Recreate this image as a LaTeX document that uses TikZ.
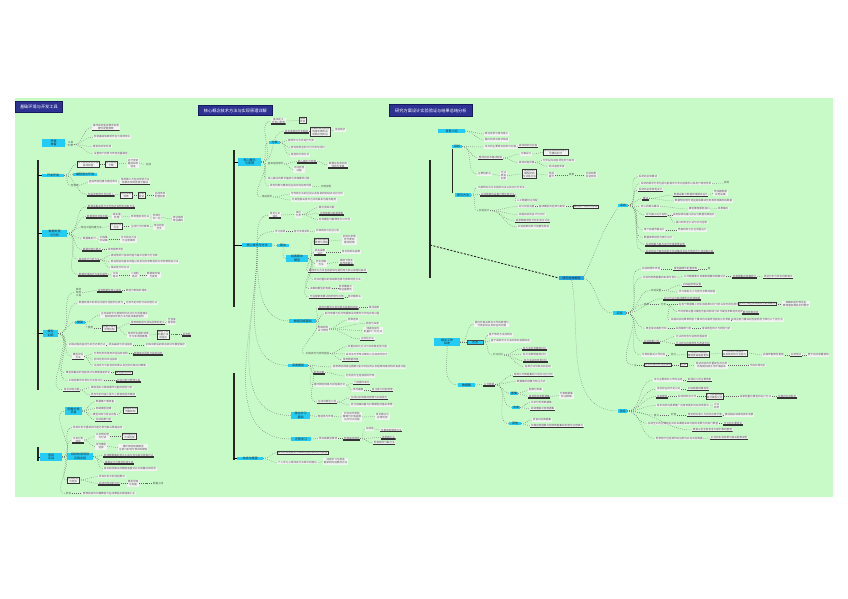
\documentclass[tikz,border=0pt]{standalone}
\usepackage{fontspec}
\setmainfont{Noto Sans CJK SC}
\usepackage{tikz}
\usetikzlibrary{positioning}
\definecolor{bggreen}{HTML}{C8FAC8}
\definecolor{keycyan}{HTML}{22CCF5}
\definecolor{rootblue}{HTML}{1EA8E8}
\definecolor{navy}{HTML}{2D3192}
\definecolor{navyline}{HTML}{161A5E}
\definecolor{leaf}{HTML}{F2F4F2}
\definecolor{txt}{HTML}{555555}

\begin{document}
\begin{tikzpicture}[
  x=1pt,y=-1pt,
  lf/.style={fill=leaf,text=txt,anchor=west,align=center,inner xsep=0.7pt,inner ysep=0.5pt,font=\fontsize{2.6}{3}\selectfont},
  ul/.style={lf,path picture={\draw[line width=2.4pt,black!80] (path picture bounding box.south west) -- (path picture bounding box.south east);}},
  bx/.style={lf,draw=black!80,line width=0.5pt},
  pl/.style={lf,fill=none},
  key/.style={lf,fill=keycyan,text=black!85,font=\fontsize{3}{3.4}\selectfont},
  ttl/.style={fill=navy,draw=navyline,line width=0.8pt,text=white,anchor=west,minimum height=9pt,font=\fontsize{4.2}{5}\selectfont},
  trunk/.style={line width=1.2pt,black!85},
  br/.style={draw=black!60,line width=0.5pt,dash pattern=on 0.5pt off 1.5pt,out=0,in=180}
]
\fill[white] (0,0) rectangle (848,599);
\fill[bggreen] (15,98) rectangle (833,497);
\useasboundingbox (0,0) rectangle (848,599);

\node[ttl,minimum width=47pt] (t1) at (15,107) {基础环境与开发工具};
\node[ttl,minimum width=74pt] (t2) at (198,110.5) {核心概念技术方法与实现原理详解};
\node[ttl,minimum width=83pt,minimum height=12pt] (t3) at (389,110.5) {研究方案设计实验验证与结果总结分析};

\coordinate (c1top) at (38,160);
\coordinate (c1bot) at (38,390);
\coordinate (c1top2) at (38,447);
\coordinate (c1bot2) at (38,461);
\coordinate (c2top) at (234,150);
\coordinate (c2mid) at (234,307);
\coordinate (c2mid2) at (234,373);
\coordinate (c2bot) at (234,460);
\coordinate (c3top) at (430,160);
\coordinate (c3mid) at (430,245);
\coordinate (c3bot) at (430,278);

\node[key,minimum width=23pt,minimum height=8pt] (A1) at (42,143) {环境\\准备};
\node[pl] (a1b) at (67,144.5) {工具\\列表};
\node[ul] (a1c) at (92,127.5) {操作系统版本要求说明\\硬件配置推荐};
\node[lf] (a1d) at (93,137) {安装基础依赖软件包与常用命令};
\node[lf] (a1e) at (92,146.5) {更新系统软件源};
\node[lf] (a1f) at (93,153.5) {设置用户权限与环境变量路径};

\node[key,minimum width=22pt] (A2) at (42,175.5) {开发环境};
\node[bx] (a2a) at (77,164) {显卡驱动安装步骤\\版本检查};
\node[bx] (a2b) at (105,164) {官方驱动\\下载};
\node[lf] (a2c) at (127,163) {运行安装\\重启系统\\验证};
\node[pl] (a2d) at (145,164.5) {完成};
\node[key,minimum width=24pt] (a2e) at (73,174.5) {编程语言环境};
\node[pl] (a2f) at (70,185.5) {包管理};
\node[lf] (a2g) at (88,182) {虚拟环境创建与激活命令};
\node[ul] (a2h) at (120,181.5) {常用第三方包的安装方法\\依赖冲突的排查与解决};
\node[ul] (a2i) at (87,194.5) {包版本管理与导出导入};
\node[bx] (a2j) at (120,195) {导出依赖\\列表};
\node[bx] (a2k) at (138,195) {安装\\验证};
\node[lf] (a2l) at (154,195) {完成环境\\配置检查};

\node[key,minimum width=25pt] (A3) at (42,233.5) {数据处理\\与分析};
\node[ul] (a3a) at (87,206.5) {数据采集来源与文件格式说明及读取方法};
\node[ul] (a3b) at (86,216.5) {数据清洗流程步骤};
\node[lf] (a3c) at (112,216) {缺失值\\处理};
\node[lf] (a3d) at (130,217) {异常值检测方法};
\node[lf] (a3e) at (152,217.5) {标准化\\归一化};
\node[lf] (a3f) at (172,219) {特征缩放\\特征编码};
\node[pl] (a3g) at (80,227.5) {特征工程构建方法};
\node[bx] (a3h) at (110,226.5) {特征选择\\方法};
\node[lf] (a3i) at (130,226.5) {主成分分析降维};
\node[lf] (a3j) at (153,227) {特征组合\\交叉};
\node[lf] (a3k) at (82,238.5) {数据集划分};
\node[lf] (a3l) at (99,239.5) {训练集\\测试集};
\node[lf] (a3m) at (120,239.5) {交叉验证方法\\与注意事项};
\node[ul] (a3n) at (82,249.5) {数据可视化展示};
\node[lf] (a3o) at (107,249.5) {常用图表类型};
\node[ul] (a3p) at (78,259.5) {基本统计分析方法};
\node[lf] (a3q) at (110,255.5) {描述性统计指标均值方差中位数与分位数};
\node[lf] (a3r) at (110,262) {假设检验的基本流程以及常见的参数检验与非参数检验方法};
\node[lf] (a3s) at (110,268) {相关性分析方法};
\node[ul] (a3t) at (78,274.5) {数据存储格式与读写操作};
\node[lf] (a3u) at (112,275) {文本\\格式};
\node[lf] (a3v) at (130,275) {二进制\\格式};
\node[lf] (a3w) at (146,275) {数据库存储\\与查询};

\node[key,minimum width=15pt,minimum height=7pt] (A4) at (43,333.5) {模型\\训练};
\node[pl] (a4a) at (75,292.5) {其他\\常用\\工具};
\node[ul] (a4b) at (97,290.5) {常用数据处理工具库};
\node[lf] (a4c) at (125,290.5) {数组与表格处理库};
\node[lf] (a4d) at (78,303) {数据处理中的常见问题与性能优化技巧};
\node[lf] (a4e) at (125,303) {内存不足时的分块处理方法};
\node[key,minimum width=10pt] (a4f) at (75,322.5) {框架};
\node[lf] (a4g) at (100,315) {主流深度学习框架的特点对比与选择建议\\各框架的安装方法与版本兼容说明};
\node[pl] (a4h) at (87,328) {使用};
\node[bx] (a4i) at (102,328) {张量与自动\\求导机制};
\node[ul] (a4j) at (130,323) {常用网络层与损失函数的定义};
\node[lf] (a4k) at (167,321.5) {全连接\\卷积层};
\node[lf] (a4l) at (127,335) {常用优化器的选择\\学习率调度策略};
\node[bx] (a4m) at (157,334.5) {梯度下降\\动量方法\\自适应};
\node[ul] (a4n) at (182,334.5) {超参数};
\node[lf] (a4o) at (68,345) {训练过程的监控与日志记录方法};
\node[lf] (a4p) at (108,345) {损失曲线与评估指标};
\node[lf] (a4q) at (145,345) {训练中断后的断点续训与模型保存};
\node[ul] (a4r) at (72,356.5) {模型评估\\方法};
\node[lf] (a4s) at (93,353.5) {分类任务的常用评估指标说明};
\node[ul] (a4t) at (133,353.5) {准确率召回率与综合指标};
\node[lf] (a4u) at (93,359.5) {回归任务的评估指标};
\node[lf] (a4v) at (93,365.5) {过拟合与欠拟合的判断以及正则化等应对策略};
\node[lf] (a4w) at (65,372.5) {模型部署前的性能测试与推理速度优化};
\node[bx] (a4x) at (115,372.5) {模型量化剪枝};
\node[lf] (a4y) at (68,380.5) {训练结果的可视化与实验对比};
\node[ul] (a4z) at (116,380.5) {实验记录与管理工具};
\node[ul] (a4aa) at (63,390) {常见训练问题};
\node[lf] (a4ab) at (90,387.5) {梯度消失与梯度爆炸问题的原因分析};
\node[ul] (a4ac) at (90,395) {显存不足时减小批大小或使用混合精度};

\node[key,minimum width=22pt,minimum height=8pt] (A5) at (40,457) {项目\\实战};
\node[key,minimum width=17pt,minimum height=8pt] (a5a) at (65,411) {图像分类\\项目};
\node[lf] (a5b) at (95,401.5) {数据集下载准备};
\node[lf] (a5c) at (95,408.5) {网络模型搭建};
\node[lf] (a5d) at (92,414.5) {模型训练与验证过程};
\node[ul] (a5e) at (95,420) {测试结果分析};
\node[bx] (a5f) at (123,410.5) {准确率达到\\预期目标};
\node[lf] (a5g) at (72,427.5) {项目开发中遇到的问题记录与解决思路总结};
\node[ul] (a5h) at (72,440) {文本分类\\项目};
\node[lf] (a5i) at (95,436.5) {文本预处理\\与分词};
\node[bx] (a5j) at (122,436.5) {词向量表示\\方法选择};
\node[lf] (a5k) at (95,446.5) {序列模型\\选择};
\node[lf] (a5l) at (118,447.5) {循环神经网络模型\\注意力机制与预训练模型};
\node[key,minimum width=26pt,minimum height=7pt] (a5m) at (67,456.5) {目标检测项目\\实践总结};
\node[ul] (a5n) at (103,455.5) {检测数据集的标注工具与标注格式转换方法};
\node[ul] (a5o) at (104,462.5) {锚框设计与候选区域生成};
\node[lf] (a5p) at (103,469) {常见检测算法的精度速度对比与部署应用场景};
\node[bx] (a5q) at (67,480) {项目总结\\与经验};
\node[lf] (a5r) at (98,476.5) {项目开发中的经验教训};
\node[ul] (a5s) at (98,483.5) {后续可改进的方向};
\node[lf] (a5t) at (127,483.5) {模型压缩\\与加速};
\node[pl] (a5u) at (152,483.5) {部署上线};
\node[pl] (a5v) at (65,493.5) {参考};
\node[lf] (a5w) at (82,493.5) {推荐阅读的书籍教程与在线课程资源链接汇总};

\node[key,minimum width=23pt,minimum height=8pt] (B1) at (238,162) {核心概念\\与原理};
\node[ul] (b1a) at (271,121) {基本定义\\与核心思想};
\node[bx] (b1b) at (299,120.5) {相关\\术语};
\node[ul] (b1c) at (284,131.5) {技术发展的历史脉络};
\node[bx] (b1d) at (310,131.5) {早期的研究阶段\\快速发展阶段\\成熟应用阶段};
\node[lf] (b1e) at (334,130) {当前现状};
\node[key,minimum width=11pt] (b1f) at (269,142.5) {分类};
\node[lf] (b1g) at (287,140.5) {按照学习方式进行分类};
\node[lf] (b1h) at (290,147.5) {按任务类型划分为分类与回归};
\node[lf] (b1i) at (290,155) {其他的分类方式};
\node[pl] (b1j) at (267,164) {基本组成部分};
\node[ul] (b1k) at (297,161.5) {输入输出与参数};
\node[lf] (b1l) at (293,169.5) {中间处理\\过程};
\node[ul] (b1m) at (328,165) {数据在各层间的\\流动与变换};
\node[lf] (b1n) at (267,178.5) {核心算法的数学基础与详细推导过程};
\node[lf] (b1o) at (269,186) {线性代数与概率论在其中的应用场景};
\node[pl] (b1p) at (320,187) {示例说明};
\node[pl] (b1q) at (261,197) {相关技术};
\node[lf] (b1r) at (290,194) {与传统方法的区别以及各自的优缺点对比分析};
\node[lf] (b1s) at (291,200) {与其他相关技术之间的联系与融合趋势};
\node[ul] (b1t) at (269,215) {常见认识\\误区};
\node[lf] (b1u) at (295,214.5) {误区\\分析};
\node[lf] (b1v) at (318,207.5) {概念混淆问题};
\node[ul] (b1w) at (319,213.5) {过度依赖训练数据量};
\node[lf] (b1x) at (318,219.5) {忽视模型可解释性与公平性};
\node[lf] (b1y) at (274,231.5) {学习资源};
\node[lf] (b1z) at (293,231.5) {官方文档资料};
\node[lf] (b1aa) at (315,231) {开源项目与社区讨论};

\node[key,minimum width=30pt] (B2) at (242,245) {核心技术与方法};
\node[key,minimum width=12pt] (b2a) at (277,245.5) {算法};
\node[key,minimum width=22pt,minimum height=7pt] (b2b) at (286,258.5) {经典算法\\模型};
\node[bx] (b2c) at (314,241) {算法的基本\\思想与流程};
\node[lf] (b2d) at (342,240) {初始化参数\\迭代更新\\输出结果};
\node[ul] (b2e) at (314,252) {损失函数\\设计};
\node[lf] (b2f) at (341,252) {常见的损失函数};
\node[lf] (b2g) at (315,263.5) {优化求解\\方法};
\node[ul] (b2h) at (339,262) {梯度下降及\\其改进算法};
\node[ul] (b2i) at (308,271) {集成学习方法包括装袋与提升两大类以及随机森林};
\node[lf] (b2j) at (313,279.5) {支持向量机的核函数选择与参数调优方法};
\node[lf] (b2k) at (309,288.5) {决策树模型的构建};
\node[lf] (b2l) at (338,288.5) {剪枝策略与\\特征重要性};
\node[ul] (b2m) at (309,297) {无监督聚类算法的原理与应用};
\node[lf] (b2n) at (347,297) {层次聚类法};
\node[key,minimum width=27pt] (b2o) at (289,321) {神经网络基础};
\node[ul] (b2p) at (318,307.5) {神经元模型与常见激活函数的选择};
\node[lf] (b2q) at (368,307.5) {激活函数};
\node[lf] (b2r) at (324,313.5) {前向传播与反向传播算法的推导与代码实现过程};
\node[lf] (b2s) at (317,329) {网络结构\\设计原则};
\node[lf] (b2t) at (347,320) {层数选择};
\node[lf] (b2u) at (365,323.5) {宽度与深度};
\node[lf] (b2v) at (363,330.5) {残差连接与\\批量归一化方法};
\node[ul] (b2w) at (360,339) {正则化方法};
\node[pl] (b2aa) at (305,353.5) {训练技巧与调优经验};
\node[lf] (b2x) at (347,346.5) {权重初始化方法与训练稳定性问题};
\node[lf] (b2y) at (345,354) {丢弃法与早停法等防止过拟合的技巧};
\node[ul] (b2z) at (342,360) {常用数据增强};
\node[key,minimum width=20pt] (b2ab) at (288,365.5) {深度模型};
\node[lf] (b2ac) at (332,367) {卷积神经网络在图像识别中的应用以及经典网络结构的演进过程};
\node[ul] (b2ad) at (313,372.5) {卷积运算};
\node[lf] (b2ae) at (345,376) {池化层与全连接层的作用};
\node[lf] (b2af) at (313,385) {循环神经网络与长短期记忆};
\node[ul] (b2ag) at (353,383) {门控循环单元};
\node[lf] (b2ah) at (352,390) {序列建模};
\node[ul] (b2ai) at (371,390) {自注意力机制原理};
\node[ul] (b2aj) at (317,402) {生成式模型介绍};
\node[ul] (b2ak) at (350,398) {生成对抗网络的原理与训练技巧};
\node[lf] (b2al) at (350,405) {变分自编码器与扩散模型的基本思想};
\node[key,minimum width=19pt,minimum height=7pt] (b2am) at (291,415.5) {强化学习\\基础};
\node[lf] (b2an) at (317,416.5) {智能体与环境};
\node[lf] (b2ao) at (342,417) {状态动作奖励\\策略与价值函数\\马尔可夫过程};
\node[lf] (b2ap) at (375,416.5) {常见算法与\\应用场景};
\node[key,minimum width=20pt] (b2aq) at (291,439) {迁移学习};
\node[lf] (b2ar) at (318,438.5) {预训练模型微调};
\node[ul] (b2as) at (343,438.5) {参数高效微调};
\node[lf] (b2at) at (365,429) {冻结层};
\node[ul] (b2au) at (380,430) {全量参数微调方法};
\node[ul] (b2av) at (381,437.5) {适配器方法};
\node[ul] (b2aw) at (373,443) {低秩矩阵分解方法};

\node[key,minimum width=26pt] (B3) at (237,458.5) {总结与展望};
\node[bx] (b3a) at (277,452.5) {技术的发展趋势与未来可能的研究方向展望};
\node[lf] (b3b) at (277,462.5) {个人学习心得体会与实践中的建议};
\node[lf] (b3c) at (323,461.5) {持续学习与跟进\\最新研究进展的方法};

\node[key,minimum width=27pt] (C1) at (438,131) {背景介绍};
\node[lf] (c1a) at (484,134) {研究背景与研究意义};
\node[lf] (c1b) at (484,140) {国内外研究现状综述};
\node[key,minimum width=10pt] (C2) at (452,146.5) {目标};
\node[lf] (c2a) at (484,147) {本文的主要研究目标与内容};
\node[ul] (c2b) at (518,146) {具体的研究内容};
\node[ul] (c2c) at (478,158) {整体的技术路线规划};
\node[lf] (c2d) at (520,154) {方案设计};
\node[bx] (c2e) at (543,152.5) {系统整体架构的设计\\与模块划分};
\node[lf] (c2f) at (518,162.5) {具体实施步骤};
\node[lf] (c2g) at (542,160.5) {分阶段完成各项任务与目标};
\node[lf] (c2h) at (548,166.5) {时间进度安排};
\node[lf] (c2i) at (477,174) {主要创新点};
\node[lf] (c2j) at (500,175.5) {方法\\改进\\创新};
\node[bx] (c2k) at (522,174) {提出新的\\模型结构\\与训练方法};
\node[lf] (c2l) at (548,175) {性能\\提升};
\node[pl] (c2m) at (568,175) {效果};
\node[lf] (c2n) at (585,175) {实验结果\\验证有效};
\node[key,minimum width=16pt] (C3) at (455,195) {研究方法};
\node[lf] (c3a) at (477,187.5) {文献研究法与实验研究法以及对比分析法};
\node[ul] (c3b) at (480,194.5) {实验数据的采集与预处理方法};
\node[lf] (c3c) at (516,200.5) {人工数据标注流程};
\node[pl] (c3d) at (478,210.5) {实验设计};
\node[lf] (c3e) at (518,206.5) {对比实验设置};
\node[lf] (c3f) at (538,206.5) {基线模型的选择与复现};
\node[bx] (c3g) at (573,206.5) {采用统一的评价标准};
\node[lf] (c3h) at (518,214.5) {消融实验的设计与分析};
\node[ul] (c3i) at (515,221) {超参数敏感性分析实验与讨论};
\node[lf] (c3j) at (517,227) {实验结果的统计显著性检验};

\node[key,fill=rootblue,minimum width=25pt] (root) at (559,278) {研究总体框架};

\node[key,minimum width=10pt] (R1) at (618,205.5) {系统};
\node[lf] (r1a) at (638,176.5) {系统的总体概述};
\node[lf] (r1b) at (640,183.5) {系统的需求分析包括功能需求与非功能需求以及用户使用场景};
\node[pl] (r1c) at (723,183) {说明};
\node[ul] (r1d) at (638,190) {系统的总体架构设计};
\node[ul] (r1e) at (642,198.5) {模块};
\node[ul] (r1f) at (673,195) {数据采集与数据存储模块设计};
\node[lf] (r1g) at (713,193) {传感器数据\\实时采集};
\node[lf] (r1h) at (674,201) {数据预处理与特征提取模块负责清洗转换原始数据};
\node[lf] (r1i) at (640,206.5) {核心的算法模块};
\node[lf] (r1j) at (688,209) {模型推理服务接口};
\node[lf] (r1k) at (717,208.5) {结果输出};
\node[ul] (r1l) at (645,215) {对外接口设计说明};
\node[lf] (r1m) at (672,215) {采用标准的接口协议与数据交换格式};
\node[lf] (r1n) at (675,222.5) {接口的安全认证与访问控制};
\node[lf] (r1o) at (643,230) {用户前端界面设计};
\node[lf] (r1p) at (677,230) {界面布局与交互流程设计};
\node[lf] (r1q) at (643,237.5) {数据库表结构与索引设计};
\node[ul] (r1r) at (645,244.5) {系统部署方案与运行环境配置说明};
\node[ul] (r1s) at (645,251.5) {系统测试方案包括单元测试集成测试与性能压力测试等内容};

\node[key,minimum width=13pt] (R2) at (613,313) {实验};
\node[lf] (r2a) at (641,269) {实验软硬件环境};
\node[ul] (r2b) at (673,269) {服务器硬件配置参数};
\node[pl] (r2c) at (707,269) {等};
\node[lf] (r2d) at (642,277.5) {实验所用数据集的来源与划分};
\node[lf] (r2e) at (683,276.5) {公开数据集与自建数据集的规模对比};
\node[ul] (r2f) at (732,276.5) {各数据集的规模统计};
\node[ul] (r2g) at (763,277) {类别分布与样本均衡情况};
\node[pl] (r2h) at (650,290.5) {实验设置};
\node[ul] (r2i) at (682,285) {训练超参数设置};
\node[lf] (r2j) at (678,292) {学习率批大小与迭代次数的取值};
\node[ul] (r2k) at (663,298.5) {对比方法与基线模型的选择依据};
\node[pl] (r2l) at (643,304.5) {结果};
\node[pl] (r2m) at (660,304.5) {分析};
\node[lf] (r2n) at (678,304.5) {在各个数据集上的实验结果对比分析以及可视化展示};
\node[bx] (r2o) at (738,304) {本文方法在多数指标上取得最优};
\node[lf] (r2p) at (782,304) {准确率提升明显且\\推理速度满足实时要求};
\node[lf] (r2q) at (677,311.5) {不同参数设置对模型性能的影响分析与最佳参数组合选择};
\node[ul] (r2r) at (742,312.5) {最佳参数组合};
\node[lf] (r2s) at (670,320) {消融实验结果表明各个模块均对最终性能有正向贡献};
\node[lf] (r2t) at (730,320) {去除注意力模块后性能明显下降约三个百分点};
\node[lf] (r2u) at (645,328.5) {典型成功案例分析};
\node[lf] (r2v) at (675,328.5) {失败案例分析};
\node[lf] (r2w) at (701,328.5) {错误类型统计与原因分析};
\node[ul] (r2x) at (643,341.5) {实验结果讨论};
\node[lf] (r2y) at (675,336.5) {方法的优势与适用范围说明};
\node[ul] (r2z) at (675,343.5) {方法存在的局限性与改进空间};
\node[lf] (r2aa) at (641,355) {与现有相关工作比较};
\node[pl] (r2ab) at (670,355) {对比};
\node[bx] (r2ac) at (687,354) {与同类方法相比\\精度更高速度更快};
\node[bx] (r2ad) at (722,353) {与传统方法相比\\具有更好的泛化能力};
\node[lf] (r2ae) at (762,355) {抗噪声鲁棒性更强};
\node[ul] (r2af) at (790,355) {实用性好};
\node[lf] (r2ag) at (807,355) {便于实际部署使用};
\node[pl] (r2ah) at (633,365) {注};
\node[bx] (r2ai) at (644,365) {实验过程中的注意事项};
\node[bx] (r2aj) at (680,365) {记录};
\node[lf] (r2ak) at (695,365.5) {保证实验的可重复性并记录\\所有随机种子与环境版本};
\node[lf] (r2al) at (749,365.5) {代码开源地址};

\node[key,minimum width=9pt] (R3) at (618,411) {总结};
\node[lf] (r3a) at (653,380) {本文主要研究工作的总结};
\node[ul] (r3b) at (687,380) {取得的几项主要贡献};
\node[lf] (r3c) at (656,389) {当前存在的不足之处};
\node[ul] (r3d) at (687,389) {训练数据规模有限};
\node[ul] (r3e) at (656,396.5) {未来展望};
\node[lf] (r3f) at (677,396.5) {后续的研究工作};
\node[bx] (r3g) at (706,396.5) {扩大数据规模\\提升模型泛化};
\node[lf] (r3h) at (739,396.5) {探索轻量化模型的设计方法};
\node[ul] (r3i) at (777,396.5) {多模态信息融合};
\node[lf] (r3j) at (656,405.5) {将本文研究成果推广应用到更多的实际场景中};
\node[lf] (r3k) at (713,406) {工业\\应用};
\node[pl] (r3l) at (653,415) {意义};
\node[pl] (r3m) at (670,415) {价值};
\node[ul] (r3n) at (687,415) {理论研究意义与实际应用价值};
\node[lf] (r3o) at (724,415) {推动相关领域的技术发展};
\node[lf] (r3p) at (647,423.5) {总结全文的主要结论并对本课题未来可能的发展方向进行展望};
\node[ul] (r3q) at (723,423.5) {全文的主要结论};
\node[ul] (r3r) at (692,430) {致谢以及全部参考文献列表的整理};
\node[lf] (r3s) at (655,438.5) {附录部分包括源代码说明与补充实验数据};
\node[ul] (r3t) at (710,438) {补充的实验结果与相关图表说明};

\node[key,minimum width=26pt,minimum height=8pt] (D1) at (434,342) {相关工作\\综述};
\node[lf] (d1a) at (474,324) {国内外相关研究工作的梳理与\\分类总结以及存在的问题};
\node[key,draw=black!70,line width=0.4pt,minimum width=16pt] (d1b) at (467,342) {方法};
\node[lf] (d1c) at (488,335) {基于传统方法的研究};
\node[lf] (d1d) at (490,341) {基于深度学习方法的研究进展综述};
\node[pl] (d1e) at (492,355) {方法对比};
\node[ul] (d1f) at (522,348.5) {各方法检测精度对比};
\node[lf] (d1g) at (522,354.5) {各方法推理速度对比};
\node[ul] (d1h) at (523,360.5) {各方法适用场景对比};
\node[lf] (d1i) at (524,366.5) {各类方法优缺点的总结};
\node[key,minimum width=17pt] (D2) at (458,385) {数据集};
\node[ul] (d2a) at (483,384.5) {公开数据};
\node[ul] (d2b) at (513,375) {常用公开数据集的介绍与对比分析};
\node[lf] (d2c) at (516,381.5) {数据集的规模与标注方式};
\node[key,minimum width=8pt] (d2d) at (510,393.5) {图像};
\node[lf] (d2e) at (528,390) {图像分类集};
\node[ul] (d2f) at (528,396.5) {目标检测类数据集};
\node[lf] (d2g) at (559,395.5) {分割数据集\\标注精细};
\node[key,minimum width=8pt] (d2h) at (512,407.5) {文本};
\node[lf] (d2i) at (530,402.5) {文本分类类数据集};
\node[ul] (d2j) at (530,409) {阅读理解问答数据集};
\node[key,minimum width=12pt] (d2k) at (509,423.5) {其他};
\node[lf] (d2l) at (532,420) {语音识别数据集};
\node[ul] (d2m) at (530,426) {多模态数据集与视频数据集的发展与应用情况};

\draw[trunk] (c1top) -- (c1bot);
\draw[trunk] (c1top2) -- (c1bot2);
\draw[trunk] (c2top) -- (c2mid);
\draw[trunk] (c2mid2) -- (c2bot);
\draw[trunk] (c3top) -- (c3bot);
\draw[line width=0.6pt] (A2.west -| c1top) -- (A2.west);
\draw[line width=0.6pt] (A3.west -| c1top) -- (A3.west);
\draw[line width=0.6pt] (A4.west -| c1top) -- (A4.west);
\draw[line width=0.6pt] (A5.west -| c1top2) -- (A5.west);
\draw[line width=0.6pt] (B1.west -| c2top) -- (B1.west);
\draw[line width=0.6pt] (B2.west -| c2top) -- (B2.west);
\draw[line width=0.6pt] (B3.west -| c2top) -- (B3.west);
\draw[line width=0.9pt,black!85,dash pattern=on 2pt off 1.5pt] (c3mid) -- (root.west);
\draw[trunk,line width=0.9pt] (C2.south west) -- (C2.south west |- C3.north west);

\path (A1.east) edge[br] (a1b.west);
\path (a1b.east) edge[br] (a1c.west) edge[br] (a1d.west) edge[br] (a1e.west) edge[br] (a1f.west);
\path (A2.east) edge[br] (a2a.west) edge[br] (a2e.west) edge[br] (a2f.west) edge[br] (a2i.west);
\path (a2a.east) edge[br] (a2b.west) (a2b.east) edge[br] (a2c.west) (a2c.east) edge[br] (a2d.west);
\path (a2f.east) edge[br] (a2g.west) (a2g.east) edge[br] (a2h.west);
\path (a2i.east) edge[br] (a2j.west) (a2j.east) edge[br] (a2k.west) (a2k.east) edge[br] (a2l.west);
\path (A3.east) edge[br] (a3a.west) edge[br] (a3b.west) edge[br] (a3g.west) edge[br] (a3k.west) edge[br] (a3n.west) edge[br] (a3p.west) edge[br] (a3t.west);
\path (a3b.east) edge[br] (a3c.west) (a3c.east) edge[br] (a3d.west) (a3d.east) edge[br] (a3e.west) (a3e.east) edge[br] (a3f.west);
\path (a3g.east) edge[br] (a3h.west) (a3h.east) edge[br] (a3i.west) (a3i.east) edge[br] (a3j.west);
\path (a3k.east) edge[br] (a3l.west) (a3l.east) edge[br] (a3m.west);
\path (a3n.east) edge[br] (a3o.west);
\path (a3p.east) edge[br] (a3q.west) edge[br] (a3r.west) edge[br] (a3s.west);
\path (a3t.east) edge[br] (a3u.west) (a3u.east) edge[br] (a3v.west) (a3v.east) edge[br] (a3w.west);
\path (A4.east) edge[br] (a4a.west) edge[br] (a4d.west) edge[br] (a4f.west) edge[br] (a4o.west) edge[br] (a4r.west) edge[br] (a4w.west) edge[br] (a4y.west) edge[br] (a4aa.west);
\path (a4a.east) edge[br] (a4b.west) (a4b.east) edge[br] (a4c.west) (a4d.east) edge[br] (a4e.west);
\path (a4f.east) edge[br] (a4g.west) edge[br] (a4h.west) (a4h.east) edge[br] (a4i.west);
\path (a4i.east) edge[br] (a4j.west) edge[br] (a4l.west) (a4j.east) edge[br] (a4k.west);
\path (a4l.east) edge[br] (a4m.west) (a4m.east) edge[br] (a4n.west);
\path (a4o.east) edge[br] (a4p.west) (a4p.east) edge[br] (a4q.west);
\path (a4r.east) edge[br] (a4s.west) edge[br] (a4u.west) edge[br] (a4v.west) (a4s.east) edge[br] (a4t.west);
\path (a4w.east) edge[br] (a4x.west) (a4y.east) edge[br] (a4z.west);
\path (a4aa.east) edge[br] (a4ab.west) edge[br] (a4ac.west);
\path (A5.east) edge[br] (a5a.west) edge[br] (a5g.west) edge[br] (a5h.west) edge[br] (a5m.west) edge[br] (a5q.west) edge[br] (a5v.west);
\path (a5a.east) edge[br] (a5b.west) edge[br] (a5c.west) edge[br] (a5d.west) edge[br] (a5e.west) (a5d.east) edge[br] (a5f.west);
\path (a5h.east) edge[br] (a5i.west) edge[br] (a5k.west) (a5i.east) edge[br] (a5j.west) (a5k.east) edge[br] (a5l.west);
\path (a5m.east) edge[br] (a5n.west) edge[br] (a5o.west) edge[br] (a5p.west);
\path (a5q.east) edge[br] (a5r.west) edge[br] (a5s.west) (a5s.east) edge[br] (a5t.west) (a5t.east) edge[br] (a5u.west);
\path (a5v.east) edge[br] (a5w.west);

\path (B1.east) edge[br] (b1a.west) edge[br] (b1c.west) edge[br] (b1f.west) edge[br] (b1j.west) edge[br] (b1n.west) edge[br] (b1o.west) edge[br] (b1q.west);
\path (b1a.east) edge[br] (b1b.west) (b1c.east) edge[br] (b1d.west) (b1d.east) edge[br] (b1e.west);
\path (b1f.east) edge[br] (b1g.west) edge[br] (b1h.west) edge[br] (b1i.west);
\path (b1j.east) edge[br] (b1k.west) edge[br] (b1l.west) (b1k.east) edge[br] (b1m.west);
\path (b1o.east) edge[br] (b1p.west) (b1q.east) edge[br] (b1r.west) edge[br] (b1s.west);
\path (B2.north) edge[br,out=90] (b1t.west) edge[br,out=90] (b1y.west);
\path (b1t.east) edge[br] (b1u.west) (b1u.east) edge[br] (b1v.west) edge[br] (b1w.west) edge[br] (b1x.west);
\path (b1y.east) edge[br] (b1z.west) (b1z.east) edge[br] (b1aa.west);
\path (B2.east) edge[br] (b2a.west) (b2a.south) edge[br,out=-90] (b2b.west);
\path (b2b.east) edge[br] (b2c.west) edge[br] (b2e.west) edge[br] (b2g.west) edge[br] (b2i.west) edge[br] (b2j.west) edge[br] (b2k.west) edge[br] (b2m.west);
\path (b2c.east) edge[br] (b2d.west) (b2e.east) edge[br] (b2f.west) (b2g.east) edge[br] (b2h.west) (b2k.east) edge[br] (b2l.west) (b2m.east) edge[br] (b2n.west);
\path (B2.south) edge[br,out=-90] (b2o.west) edge[br,out=-90] (b2ab.west) edge[br,out=-90] (b2am.west) edge[br,out=-90] (b2aq.west);
\path (b2o.east) edge[br] (b2p.west) edge[br] (b2r.west) edge[br] (b2s.west) edge[br] (b2aa.west) (b2p.east) edge[br] (b2q.west);
\path (b2s.east) edge[br] (b2t.west) edge[br] (b2u.west) edge[br] (b2v.west) edge[br] (b2w.west);
\path (b2aa.east) edge[br] (b2x.west) edge[br] (b2y.west) edge[br] (b2z.west);
\path (b2ab.east) edge[br] (b2ac.west) edge[br] (b2ad.west) edge[br] (b2af.west) edge[br] (b2aj.west) (b2ad.east) edge[br] (b2ae.west);
\path (b2af.east) edge[br] (b2ag.west) edge[br] (b2ah.west) (b2ah.east) edge[br] (b2ai.west);
\path (b2aj.east) edge[br] (b2ak.west) edge[br] (b2al.west);
\path (b2am.east) edge[br] (b2an.west) (b2an.east) edge[br] (b2ao.west) (b2ao.east) edge[br] (b2ap.west);
\path (b2aq.east) edge[br] (b2ar.west) (b2ar.east) edge[br] (b2as.west);
\path (b2as.east) edge[br] (b2at.west) edge[br] (b2av.west) edge[br] (b2aw.west) (b2at.east) edge[br] (b2au.west);
\path (B3.east) edge[br] (b3a.west) edge[br] (b3b.west) (b3b.east) edge[br] (b3c.west);

\path (C1.east) edge[br] (c1a.west) edge[br] (c1b.west);
\path (C2.east) edge[br] (c2a.west) edge[br] (c2c.west) edge[br] (c2i.west) (c2a.east) edge[br] (c2b.west);
\path (c2c.east) edge[br] (c2d.west) edge[br] (c2f.west) (c2d.east) edge[br] (c2e.west);
\path (c2f.east) edge[br] (c2g.west) edge[br] (c2h.west);
\path (c2i.east) edge[br] (c2j.west) (c2j.east) edge[br] (c2k.west) (c2k.east) edge[br] (c2l.west) (c2l.east) edge[br] (c2m.west) (c2m.east) edge[br] (c2n.west);
\path (C3.east) edge[br] (c3a.west) edge[br] (c3b.west) edge[br] (c3d.west) (c3b.east) edge[br] (c3c.west);
\path (c3d.east) edge[br] (c3e.west) edge[br] (c3h.west) edge[br] (c3i.west) edge[br] (c3j.west);
\path (c3e.east) edge[br] (c3f.west) (c3f.east) edge[br] (c3g.west);

\path (root.north east) edge[br,out=65,in=235] (R1.south west);
\path (root.east) edge[br,out=-30,in=180] (R2.west);
\path (root.south) edge[br,out=-80,in=180] (R3.west);
\path (R1.east) edge[br] (r1a.west) edge[br] (r1b.west) edge[br] (r1d.west) edge[br] (r1e.west) edge[br] (r1i.west) edge[br] (r1l.west) edge[br] (r1o.west) edge[br] (r1q.west) edge[br] (r1r.west) edge[br] (r1s.west);
\path (r1b.east) edge[br] (r1c.west) (r1e.east) edge[br] (r1f.west) edge[br] (r1h.west) (r1f.east) edge[br] (r1g.west);
\path (r1i.east) edge[br] (r1j.west) (r1j.east) edge[br] (r1k.west);
\path (r1l.east) edge[br] (r1m.west) edge[br] (r1n.west) (r1o.east) edge[br] (r1p.west);
\path (R2.east) edge[br] (r2a.west) edge[br] (r2d.west) edge[br] (r2h.west) edge[br] (r2k.west) edge[br] (r2l.west) edge[br] (r2u.west) edge[br] (r2x.west) edge[br] (r2aa.west) edge[br] (r2ah.west);
\path (r2a.east) edge[br] (r2b.west) (r2b.east) edge[br] (r2c.west);
\path (r2d.east) edge[br] (r2e.west) (r2e.east) edge[br] (r2f.west) (r2f.east) edge[br] (r2g.west);
\path (r2h.east) edge[br] (r2i.west) edge[br] (r2j.west);
\path (r2l.east) edge[br] (r2m.west) (r2m.east) edge[br] (r2n.west) edge[br] (r2q.west) edge[br] (r2s.west);
\path (r2n.east) edge[br] (r2o.west) (r2o.east) edge[br] (r2p.west) (r2q.east) edge[br] (r2r.west) (r2s.east) edge[br] (r2t.west);
\path (r2u.east) edge[br] (r2v.west) (r2v.east) edge[br] (r2w.west);
\path (r2x.east) edge[br] (r2y.west) edge[br] (r2z.west);
\path (r2aa.east) edge[br] (r2ab.west) (r2ab.east) edge[br] (r2ac.west) (r2ac.east) edge[br] (r2ad.west) (r2ad.east) edge[br] (r2ae.west) (r2ae.east) edge[br] (r2af.west) (r2af.east) edge[br] (r2ag.west);
\path (r2ah.east) edge[br] (r2ai.west) (r2ai.east) edge[br] (r2aj.west) (r2aj.east) edge[br] (r2ak.west) (r2ak.east) edge[br] (r2al.west);
\path (R3.east) edge[br] (r3a.west) edge[br] (r3c.west) edge[br] (r3e.west) edge[br] (r3j.west) edge[br] (r3l.west) edge[br] (r3p.west) edge[br] (r3r.west) edge[br] (r3s.west);
\path (r3a.east) edge[br] (r3b.west) (r3c.east) edge[br] (r3d.west);
\path (r3e.east) edge[br] (r3f.west) (r3f.east) edge[br] (r3g.west) (r3g.east) edge[br] (r3h.west) (r3h.east) edge[br] (r3i.west);
\path (r3j.east) edge[br] (r3k.west) (r3l.east) edge[br] (r3m.west) (r3m.east) edge[br] (r3n.west) (r3n.east) edge[br] (r3o.west);
\path (r3p.east) edge[br] (r3q.west) (r3s.east) edge[br] (r3t.west);

\path (D1.east) edge[br] (d1a.west) edge[br] (d1b.west);
\path (d1b.east) edge[br] (d1c.west) edge[br] (d1d.west) edge[br] (d1e.west);
\path (d1e.east) edge[br] (d1f.west) edge[br] (d1g.west) edge[br] (d1h.west) edge[br] (d1i.west);
\path (D1.south) edge[br,out=-90] (D2.west);
\path (D2.east) edge[br] (d2a.west);
\path (d2a.east) edge[br] (d2b.west) edge[br] (d2c.west) edge[br] (d2d.west) edge[br] (d2h.west) edge[br] (d2k.west);
\path (d2d.east) edge[br] (d2e.west) edge[br] (d2f.west) (d2f.east) edge[br] (d2g.west);
\path (d2h.east) edge[br] (d2i.west) edge[br] (d2j.west);
\path (d2k.east) edge[br] (d2l.west) edge[br] (d2m.west);
\end{tikzpicture}
\end{document}
